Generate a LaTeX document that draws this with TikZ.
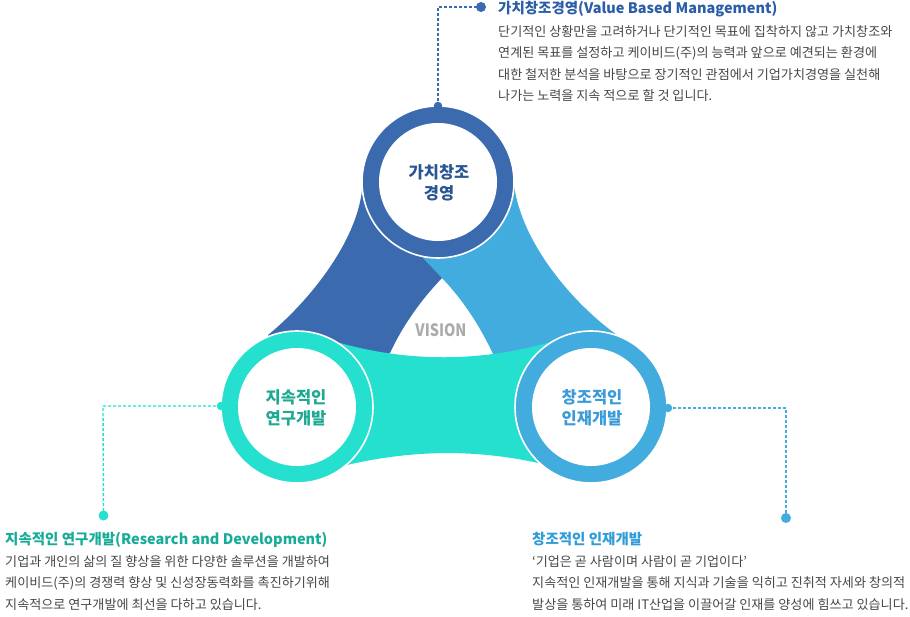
\documentclass[tikz,border=0pt]{standalone}
\usepackage{fontspec}
\setmainfont{Noto Sans CJK KR}
\definecolor{cdark}{HTML}{3B6BAE}
\definecolor{clight}{HTML}{43ACDF}
\definecolor{cteal}{HTML}{25E0CE}
\definecolor{ttop}{HTML}{2B5EA6}
\definecolor{ltop}{HTML}{2A5595}
\definecolor{tleft}{HTML}{17AC98}
\definecolor{lleft}{HTML}{1EAA92}
\definecolor{tright}{HTML}{2F9BD7}
\definecolor{lright}{HTML}{3A9BD8}
\definecolor{bodygray}{HTML}{474747}
\definecolor{visgray}{HTML}{ABABAB}
\begin{document}
\begin{tikzpicture}[x=1pt,y=-1pt,
  conn/.style={line width=1.4pt, dash pattern=on 3pt off 2pt},
  enddot/.style={circle, inner sep=0pt, minimum size=10pt},
  bump/.style={circle, inner sep=0pt, minimum size=8.5pt},
  bodyline/.style={anchor=base west, inner sep=0pt, text=bodygray, font=\fontsize{13.1}{15}\selectfont},
  titleline/.style={anchor=base west, inner sep=0pt, font=\fontsize{14.5}{16}\selectfont\bfseries},
  circlabel/.style={align=center, inner sep=0pt, font=\fontsize{16.5}{20.5}\selectfont\bfseries},
  ring/.style={draw=white, line width=1.6pt}
]
\fill[white] (0,0) rectangle (910,616);
\useasboundingbox (0,0) rectangle (910,616);

\coordinate (T) at (438,182);
\coordinate (L) at (297,407);
\coordinate (R) at (591,407);

% bands
\fill[cdark] (T) -- (362,190) .. controls (356,245) and (305,305) .. (268,335) -- (L)
  -- (390,353) .. controls (403,325) and (421,300) .. (442,278) -- cycle;
\fill[clight] (T) -- (514,185) .. controls (522,245) and (575,305) .. (617,335) -- (R)
  -- (493,354) .. controls (480,326) and (463,300) .. (442,278) -- (423,258) -- cycle;
\fill[cteal] (L) -- (340,343) .. controls (409,362) and (478,362) .. (547,343) -- (R)
  -- (538,463) .. controls (475,449) and (411,450) .. (347,465) -- cycle;

% circles
\fill[cdark, ring] (T) circle[radius=76pt];
\fill[white] (T) circle[radius=59pt];
\fill[cteal, ring] (L) circle[radius=76pt];
\fill[white] (L) circle[radius=59pt];
\fill[clight, ring] (R) circle[radius=76pt];
\fill[white] (R) circle[radius=59pt];

\node[circlabel, text=ltop] (lt) at (439,183) {가치창조\\경영};
\node[circlabel, text=lleft] (ll) at (296,408) {지속적인\\연구개발};
\node[circlabel, text=lright] (lr) at (592,408) {창조적인\\인재개발};
\node[text=visgray, inner sep=0pt, font=\fontsize{17}{20}\selectfont\bfseries] (vis) at (441,330) {\scalebox{0.85}[1]{VISION}};

% connectors
\node[bump, fill=cdark] (tb) at (438,106) {};
\coordinate (tc) at (438,7);
\node[enddot, fill=cdark] (td) at (481,7) {};
\draw[conn, cdark] (tb.center) -- (tc) -- (td.center);

\node[bump, fill=cteal] (lb) at (221,406) {};
\coordinate (lc) at (103,406);
\node[enddot, fill=cteal] (ld) at (103.5,515.5) {};
\draw[conn, cteal] (lb.center) -- (lc) -- (ld.center);

\node[bump, fill=clight] (rb) at (668,408) {};
\coordinate (rc) at (786,408);
\node[enddot, fill=clight] (rd) at (786,518) {};
\draw[conn, clight] (rb.center) -- (rc) -- (rd.center);

% top text
\node[titleline, text=ttop] (tt) at (498,13.5) {가치창조경영(Value Based Management)};
\node[bodyline] (tb1) at (498,36) {단기적인 상황만을 고려하거나 단기적인 목표에 집착하지 않고 가치창조와};
\node[bodyline] (tb2) at (498,57.5) {연계된 목표를 설정하고 케이비드(주)의 능력과 앞으로 예견되는 환경에};
\node[bodyline] (tb3) at (498,79) {대한 철저한 분석을 바탕으로 장기적인 관점에서 기업가치경영을 실천해};
\node[bodyline] (tb4) at (498,100.5) {나가는 노력을 지속 적으로 할 것 입니다.};

% left text
\node[titleline, text=tleft] (lt0) at (5,544) {지속적인 연구개발(Research and Development)};
\node[bodyline] (lb1) at (5,566) {기업과 개인의 삶의 질 향상을 위한 다양한 솔루션을 개발하여};
\node[bodyline] (lb2) at (5,587.5) {케이비드(주)의 경쟁력 향상 및 신성장동력화를 촉진하기위해};
\node[bodyline] (lb3) at (5,609) {지속적으로 연구개발에 최선을 다하고 있습니다.};

% right text
\node[titleline, text=tright] (rt0) at (532,544) {창조적인 인재개발};
\node[bodyline] (rb1) at (532,566) {‘기업은 곧 사람이며 사람이 곧 기업이다’};
\node[bodyline] (rb2) at (532,587.5) {지속적인 인재개발을 통해 지식과 기술을 익히고 진취적 자세와 창의적};
\node[bodyline] (rb3) at (532,609) {발상을 통하여 미래 IT산업을 이끌어갈 인재를 양성에 힘쓰고 있습니다.};
\end{tikzpicture}
\end{document}
